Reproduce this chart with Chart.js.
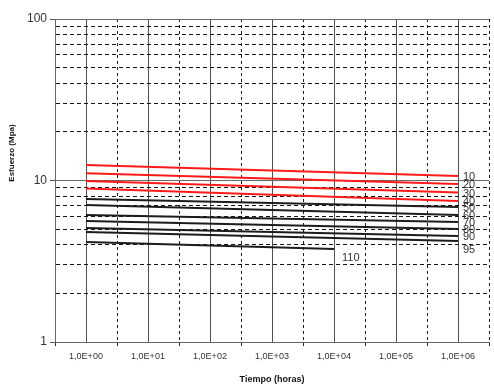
<!DOCTYPE html>
<html><head><meta charset="utf-8">
<script src="https://cdn.jsdelivr.net/npm/chart.js@4/dist/chart.umd.min.js"></script>
<style>html,body{margin:0;padding:0;background:#fff}#wrap{width:494px;height:388px}</style>
</head><body><div id="wrap"><canvas id="c"></canvas></div>
<script>
// Temperatures (°C) of each curve
const temps = ['10','20','30','40','50','60','70','80','90','95','110'];
// log10(hours) of line start / end
const startLog = [0,0,0,0,0,0,0,0,0,0,0];
const endLog   = [6,6,6,6,6,6,6,6,6,6,4];
// stress (MPa) at start and end of each line
const startStress = [12.47,11.08,9.93,8.92,7.68,7.05,6.11,5.61,5.08,4.80,4.16];
const endStress   = [10.66,9.51,8.43,7.47,6.85,6.11,5.53,5.01,4.53,4.22,3.77];
const redSeries = ['10','20','30','40'];
const xTickLogs = [0,1,2,3,4,5,6];
const yTitle = 'Esfuerzo (Mpa)';

const datasets = temps.map((t,i)=>({
  label: t,
  data: [{x:startLog[i], y:startStress[i]},{x:endLog[i], y:endStress[i]}],
  borderColor: redSeries.includes(t) ? '#ff1a1a' : '#1c1c1c',
  borderWidth: 2,
  pointRadius: 0,
  fill: false,
  tension: 0
}));

const labelPlugin = {
  id: 'endLabels',
  afterDatasetsDraw(chart){
    const ctx = chart.ctx;
    ctx.save();
    ctx.font = '11px "Liberation Sans", Arial, sans-serif';
    ctx.fillStyle = '#333';
    ctx.textBaseline = 'middle';
    ctx.textAlign = 'left';
    chart.data.datasets.forEach((ds,i)=>{
      const meta = chart.getDatasetMeta(i);
      const p = meta.data[meta.data.length-1];
      const below = (ds.label==='95' || ds.label==='110');
      ctx.fillText(ds.label, p.x + (ds.label==='110'?8:5), p.y + (below?9:1));
    });
    // y axis title
    ctx.translate(12, 153);
    ctx.rotate(-Math.PI/2);
    ctx.font = 'bold 8px "Liberation Sans", Arial, sans-serif';
    ctx.fillStyle = '#111';
    ctx.textAlign = 'center';
    ctx.fillText(yTitle, 0, 0);
    ctx.restore();
  }
};

const isInt = v => Math.abs(v - Math.round(v)) < 1e-6;
const isMajorY = v => [1,10,100].some(m => Math.abs(v-m) < 1e-6);

new Chart(document.getElementById('c'), {
  type: 'line',
  data: { datasets },
  options: {
    responsive: true,
    maintainAspectRatio: false,
    animation: false,
    layout: { padding: { top: 19, right: 0, left: 0, bottom: 0 } },
    plugins: { legend: { display: false }, tooltip: { enabled: false } },
    scales: {
      x: {
        type: 'linear',
        min: -0.5, max: 6.5,
        afterBuildTicks: s => { const t=[]; for (let v=-0.5; v<=6.5+1e-9; v+=0.5) t.push({value: v}); s.ticks = t; },
        afterFit: s => { s.height = 46; },
        ticks: {
          autoSkip: false, maxRotation: 0, padding: 5,
          color: '#333',
          font: { family: '"Liberation Sans", Arial, sans-serif', size: 9 },
          callback: v => (isInt(v) && xTickLogs.includes(Math.round(v))) ? '1,0E+0' + Math.round(v) : ''
        },
        grid: {
          color: c => (c.tick && (isInt(c.tick.value) || Math.abs(c.tick.value+0.5)<1e-6)) ? '#505050' : '#1e1e1e',
          lineWidth: 1,
          tickLength: 4,
          tickColor: c => (c.tick && !isInt(c.tick.value)) ? '#2a2a2a' : 'rgba(0,0,0,0)'
        },
        border: {
          display: true, color: '#666', width: 1,
          dash: c => (c.tick && !isInt(c.tick.value) && Math.abs(c.tick.value+0.5)>1e-6) ? [3,3] : []
        },
        title: {
          display: true, text: 'Tiempo (horas)', color: '#111',
          font: { family: '"Liberation Sans", Arial, sans-serif', size: 9, weight: 'bold' },
          padding: { top: 0, bottom: 3 }
        }
      },
      y: {
        type: 'logarithmic',
        min: 1, max: 100,
        afterBuildTicks: s => { const t=[]; [1,10].forEach(d=>{ for(let k=1;k<10;k++) t.push({value:d*k}); }); t.push({value:100}); s.ticks = t; },
        afterFit: s => { s.width = 55; },
        ticks: {
          autoSkip: false, padding: 3, color: '#333',
          font: { family: '"Liberation Sans", Arial, sans-serif', size: 12 },
          callback: v => isMajorY(v) ? String(v) : ''
        },
        grid: {
          color: c => (c.tick && isMajorY(c.tick.value)) ? '#6a6a6a' : '#161616',
          lineWidth: 1,
          tickLength: 5,
          tickColor: c => (c.tick && isMajorY(c.tick.value)) ? '#555' : 'rgba(0,0,0,0)'
        },
        border: {
          display: true, color: '#666', width: 1,
          dash: c => (c.tick && !isMajorY(c.tick.value)) ? [4,3] : []
        },
        title: { display: false }
      }
    }
  },
  plugins: [labelPlugin]
});
</script>
</body></html>
